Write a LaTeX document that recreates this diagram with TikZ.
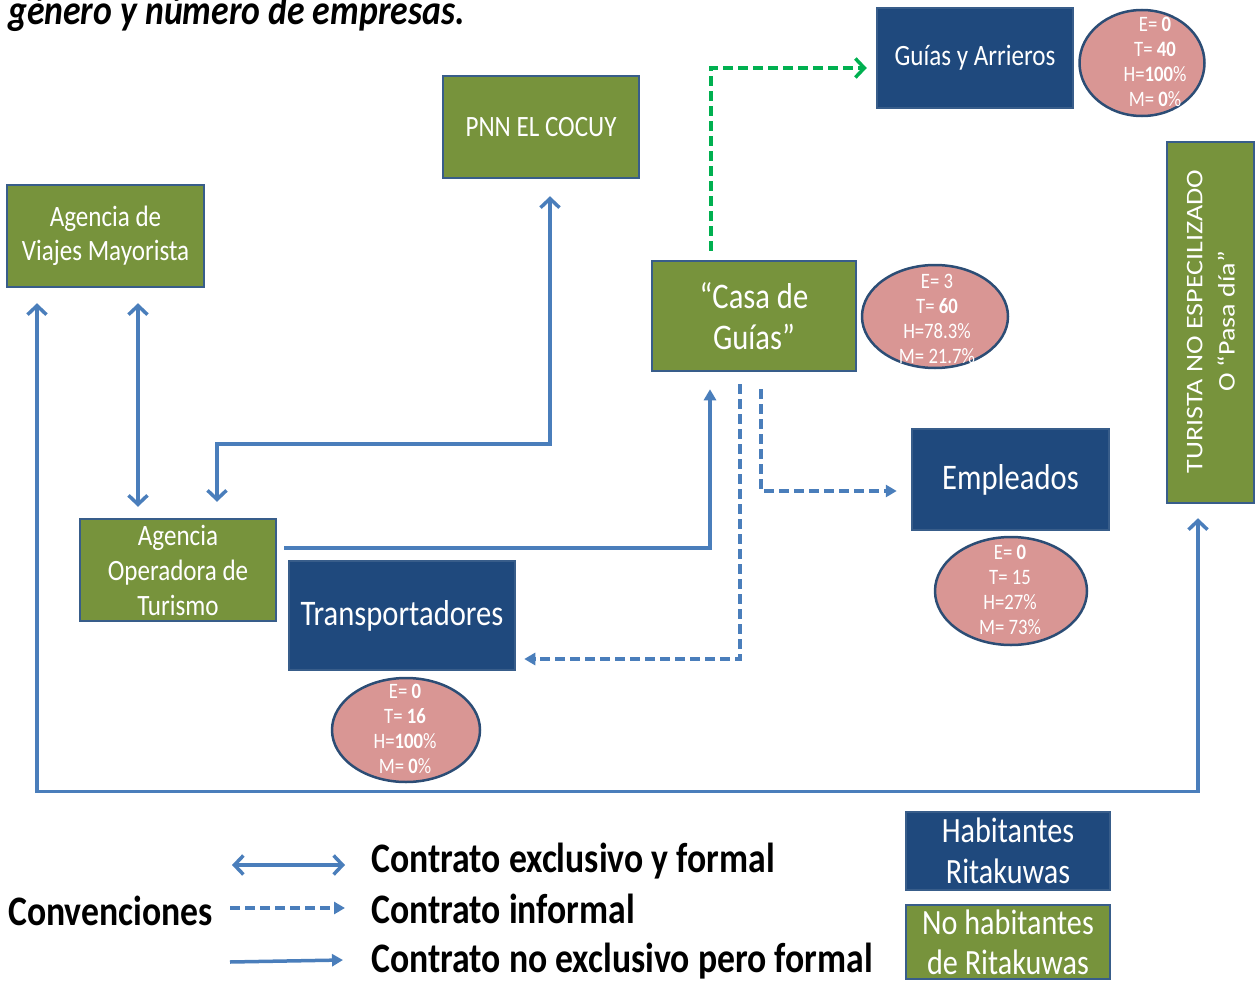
\documentclass[tikz,border=0pt]{standalone}
\usepackage{fontspec}
\setmainfont{Carlito}[FakeStretch=0.85]
\newfontfamily\plainfont{Carlito}
\usetikzlibrary{arrows.meta,shapes.geometric}
\definecolor{boxgreen}{HTML}{77933C}
\definecolor{boxblue}{HTML}{1F497D}
\definecolor{bord}{HTML}{385D8A}
\definecolor{ellfill}{HTML}{D99694}
\definecolor{ellbord}{HTML}{2C4D75}
\definecolor{arr}{HTML}{4A7EBB}
\definecolor{grn}{HTML}{00B050}
\tikzset{
  gbox/.style={draw=bord, line width=2.5pt, fill=boxgreen, text=white, align=center, inner sep=0pt},
  bbox/.style={draw=bord, line width=2.5pt, fill=boxblue, text=white, align=center, inner sep=0pt},
  stat/.style={ellipse, draw=ellbord, line width=2.5pt, fill=ellfill, inner sep=0pt},
  stattext/.style={text=white, align=center, inner sep=0pt, font=\fontsize{22}{25}\selectfont},
  excl/.style={draw=arr, line width=3.5pt, {Straight Barb[length=9pt,width=19pt]}-{Straight Barb[length=9pt,width=19pt]}},
  formal/.style={draw=arr, line width=3.5pt, -{Triangle[length=11pt,width=12pt]}},
  informal/.style={draw=arr, line width=3.5pt, dash pattern=on 10pt off 5pt, -{Triangle[length=11pt,width=12pt]}},
  greendash/.style={draw=grn, line width=3.5pt, dash pattern=on 10pt off 5pt, -{Straight Barb[length=9pt,width=19pt]}},
  legtext/.style={inner sep=0pt, anchor=base west, font=\fontsize{42}{48}\selectfont\bfseries}
}
\begin{document}
\begin{tikzpicture}[x=1pt,y=-1pt]
\useasboundingbox (0,0) rectangle (1259,982);
% title (cut)
\node[inner sep=0pt, anchor=base west, font=\fontsize{42}{48}\selectfont\bfseries\itshape] (title) at (8,25) {género y número de empresas.};
% boxes
\node[gbox, minimum width=196pt, minimum height=102pt, font=\fontsize{29.5}{34}\selectfont] (pnn) at (541,127) {PNN EL COCUY};
\node[bbox, minimum width=196pt, minimum height=100pt, font=\fontsize{29.5}{34}\selectfont] (guias) at (975,58) {Guías y Arrieros};
\node[gbox, minimum width=197pt, minimum height=102pt, font=\fontsize{29.5}{34}\selectfont] (viajes) at (105.5,236) {Agencia de\\Viajes Mayorista};
\node[gbox, minimum width=204pt, minimum height=110pt, font=\fontsize{36}{41}\selectfont] (casa) at (754,316) {“Casa de\\Guías”};
\node[gbox, minimum width=196pt, minimum height=102pt, font=\fontsize{29.5}{35}\selectfont] (oper) at (178,570) {Agencia\\Operadora de\\Turismo};
\node[bbox, minimum width=226pt, minimum height=109pt, font=\fontsize{36}{41}\selectfont] (trans) at (402,615.5) {Transportadores};
\node[bbox, minimum width=197pt, minimum height=101pt, font=\fontsize{36}{41}\selectfont] (emp) at (1010.5,479.5) {Empleados};
\node[gbox, minimum width=87pt, minimum height=361pt] (turista) at (1210.5,322.5) {};
\node[text=white, inner sep=0pt, rotate=90, font=\plainfont\fontsize{28}{38}\selectfont] (turistatext) at (1212,321.5)
  {\scalebox{1}[0.85]{\begin{tabular}{@{}c@{}}TURISTA NO ESPECILIZADO\\O “Pasa día”\end{tabular}}};
% ellipses
\node[stat, minimum width=125pt, minimum height=106pt] (e1) at (1142,63) {};
\node[stattext] (e1t) at (1155,61.5) {E= \textbf{0}\\T= \textbf{40}\\H=\textbf{100}\%\\M= \textbf{0}\%};
\node[stat, minimum width=146pt, minimum height=103pt] (e2) at (935,316.5) {};
\node[stattext] (e2t) at (937,318.5) {E= 3\\T= \textbf{60}\\H=78.3\%\\M= 21.7\%};
\node[stat, minimum width=152pt, minimum height=108pt] (e3) at (1011,591) {};
\node[stattext] (e3t) at (1010,589.5) {E= \textbf{0}\\T= 15\\H=27\%\\M= 73\%};
\node[stat, minimum width=148pt, minimum height=104pt] (e4) at (406,730) {};
\node[stattext] (e4t) at (405,728.5) {E= \textbf{0}\\T= \textbf{16}\\H=\textbf{100}\%\\M= \textbf{0}\%};
% connectors
\draw[excl] ([xshift=32.5pt,yshift=-15pt]viajes.south) -- ([xshift=-40pt,yshift=11pt]oper.north);
\draw[excl] ([xshift=9pt,yshift=-17pt]pnn.south) |- ([xshift=39pt,yshift=74pt]oper.north) -- ([xshift=39pt,yshift=16pt]oper.north);
\draw[formal] ([xshift=7pt,yshift=22pt]oper.east) -| ([xshift=-44pt,yshift=-17pt]casa.south);
\draw[informal] ([xshift=-14pt,yshift=-12pt]casa.south) |- ([xshift=8pt,yshift=-43.5pt]trans.east);
\draw[informal] ([xshift=7pt,yshift=-17pt]casa.south) |- ([xshift=-14pt,yshift=-11.5pt]emp.west);
\draw[greendash] ([xshift=-43pt,yshift=9pt]casa.north) |- ([xshift=-9pt,yshift=-10pt]guias.west);
\draw[excl] ([xshift=-68.5pt,yshift=-15pt]viajes.south) |- ([xshift=-12.5pt,yshift=-287pt]turista.south) -- ([xshift=-12.5pt,yshift=-14pt]turista.south);
% legend
\node[legtext] (conv) at (8,925) {Convenciones};
\node[legtext] (lt1) at (371,872) {Contrato exclusivo y formal};
\node[legtext] (lt2) at (371,923) {Contrato informal};
\node[legtext] (lt3) at (371,972) {Contrato no exclusivo pero formal};
\coordinate (l1a) at (232,865); \coordinate (l1b) at (345,865);
\coordinate (l2a) at (230,908); \coordinate (l2b) at (345,908);
\coordinate (l3a) at (230,962); \coordinate (l3b) at (343,960);
\draw[excl] (l1a) -- (l1b);
\draw[informal] (l2a) -- (l2b);
\draw[formal] (l3a) -- (l3b);
\node[bbox, minimum width=204pt, minimum height=78pt, font=\fontsize{35.5}{41}\selectfont] (hab) at (1008,851) {Habitantes\\Ritakuwas};
\node[gbox, minimum width=204pt, minimum height=74pt, font=\fontsize{35.5}{40}\selectfont] (nohab) at (1008,942) {No habitantes\\de Ritakuwas};
\end{tikzpicture}
\end{document}
